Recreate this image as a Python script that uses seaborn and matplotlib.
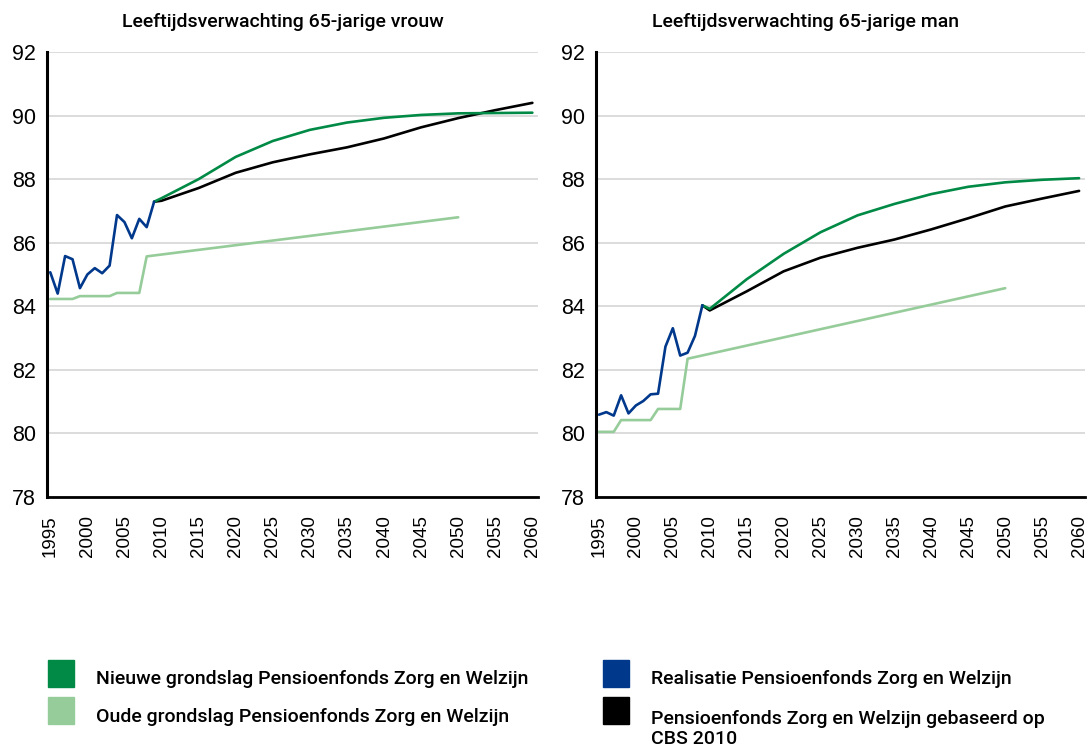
import pandas as pd
import matplotlib.pyplot as plt
import seaborn as sns
from matplotlib.patches import Rectangle

# realisatie (1995-2009)
jaren_real = list(range(1995, 2010))
vrouw_real = [85.07, 84.40, 85.58, 85.48, 84.57, 85.00, 85.20, 85.04, 85.28, 86.87, 86.65, 86.14, 86.75, 86.49, 87.29]
man_real = [80.59, 80.67, 80.56, 81.20, 80.63, 80.88, 81.02, 81.23, 81.25, 82.73, 83.31, 82.45, 82.54, 83.07, 84.03]

# prognoses
jaren_prog = [2009, 2010, 2015, 2020, 2025, 2030, 2035, 2040, 2045, 2050, 2055, 2060]
vrouw_nieuw = [87.29, 87.40, 88.00, 88.70, 89.20, 89.55, 89.78, 89.93, 90.02, 90.07, 90.08, 90.09]
vrouw_cbs = [87.29, 87.32, 87.72, 88.20, 88.53, 88.78, 89.00, 89.28, 89.63, 89.92, 90.17, 90.40]
man_nieuw = [84.03, 83.92, 84.85, 85.65, 86.33, 86.86, 87.22, 87.53, 87.76, 87.90, 87.98, 88.03]
man_cbs = [84.03, 83.87, 84.47, 85.10, 85.53, 85.84, 86.10, 86.42, 86.77, 87.14, 87.39, 87.63]

# oude grondslag
jaren_oud_vrouw = [1995, 1998, 1999, 2003, 2004, 2007, 2008, 2050]
vrouw_oud = [84.23, 84.23, 84.32, 84.32, 84.42, 84.42, 85.57, 86.80]
jaren_oud_man = [1995, 1997, 1998, 2002, 2003, 2006, 2007, 2050]
man_oud = [80.05, 80.05, 80.42, 80.42, 80.77, 80.77, 82.35, 84.57]

titels = ["Leeftijdsverwachting 65-jarige vrouw", "Leeftijdsverwachting 65-jarige man"]
reeksen = ["Nieuwe grondslag Pensioenfonds Zorg en Welzijn",
           "Oude grondslag Pensioenfonds Zorg en Welzijn",
           "Realisatie Pensioenfonds Zorg en Welzijn",
           "Pensioenfonds Zorg en Welzijn gebaseerd op\nCBS 2010"]
kleuren = ["#008a45", "#96cc9a", "#00388c", "#000000"]
jaar_ticks = list(range(1995, 2061, 5))
y_ticks = list(range(78, 93, 2))


def maak_df(real, nieuw, cbs, jaren_oud, oud):
    delen = [
        pd.DataFrame({"jaar": jaren_oud, "waarde": oud, "reeks": reeksen[1]}),
        pd.DataFrame({"jaar": jaren_prog, "waarde": cbs, "reeks": reeksen[3]}),
        pd.DataFrame({"jaar": jaren_prog, "waarde": nieuw, "reeks": reeksen[0]}),
        pd.DataFrame({"jaar": jaren_real, "waarde": real, "reeks": reeksen[2]}),
    ]
    return pd.concat(delen, ignore_index=True)


df_vrouw = maak_df(vrouw_real, vrouw_nieuw, vrouw_cbs, jaren_oud_vrouw, vrouw_oud)
df_man = maak_df(man_real, man_nieuw, man_cbs, jaren_oud_man, man_oud)

sns.set_style("white")
plt.rcParams["font.family"] = ["Liberation Sans", "DejaVu Sans"]
plt.rcParams["text.color"] = "black"
plt.rcParams["xtick.color"] = "black"
plt.rcParams["ytick.color"] = "black"
smal = ["Roboto", "Liberation Sans", "DejaVu Sans"]

W, H = 1087, 751
fig = plt.figure(figsize=(W / 100, H / 100), dpi=100)
ax1 = fig.add_axes([47.3 / W, 1 - 497 / H, 491 / W, 445 / H])
ax2 = fig.add_axes([596 / W, 1 - 497 / H, 489 / W, 445 / H])

palet = dict(zip(reeksen, kleuren))
for ax, df in [(ax1, df_vrouw), (ax2, df_man)]:
    sns.lineplot(data=df, x="jaar", y="waarde", hue="reeks", palette=palet,
                 hue_order=[reeksen[1], reeksen[3], reeksen[0], reeksen[2]],
                 linewidth=1.9, legend=False, ax=ax)
    ax.set_xlim(1994.6, 2060.8)
    ax.set_ylim(78, 92)
    ax.set_yticks(y_ticks)
    ax.set_xticks(jaar_ticks)
    ax.set_xticklabels([str(j) for j in jaar_ticks], rotation=90)
    ax.set_xlabel("")
    ax.set_ylabel("")
    ax.yaxis.grid(True, color="#d9d9d9", linewidth=1.3)
    ax.set_axisbelow(True)
    ax.tick_params(axis="y", direction="in", length=9, width=1.2, labelsize=15.5, pad=8)
    ax.tick_params(axis="x", length=0, labelsize=13.5, pad=13)
    for s in ["top", "right"]:
        ax.spines[s].set_visible(False)
    ax.spines["left"].set_linewidth(2.2)
    ax.spines["bottom"].set_linewidth(2.0)
    ax.spines["left"].set_color("black")
    ax.spines["bottom"].set_color("black")

fig.text(283 / W, 1 - 22 / H, titels[0], ha="center", va="center", fontsize=14,
         family=smal, weight="medium")
fig.text(805 / W, 1 - 22 / H, titels[1], ha="center", va="center", fontsize=14,
         family=smal, weight="medium")

# legenda
posities = [(48, 660, 96, 679), (48, 697, 96, 717), (603, 660, 651, 679), (603, 697, 651, 729)]
for (xs, ys, xt, yt), label, kleur in zip(posities, reeksen, kleuren):
    fig.add_artist(Rectangle((xs / W, 1 - (ys + 27) / H), 26 / W, 27 / H,
                             transform=fig.transFigure, color=kleur))
    fig.text(xt / W, 1 - yt / H, label, ha="left", va="center", fontsize=14,
             family=smal, weight="medium", linespacing=1.2)

fig.savefig("out.png", dpi=100)
